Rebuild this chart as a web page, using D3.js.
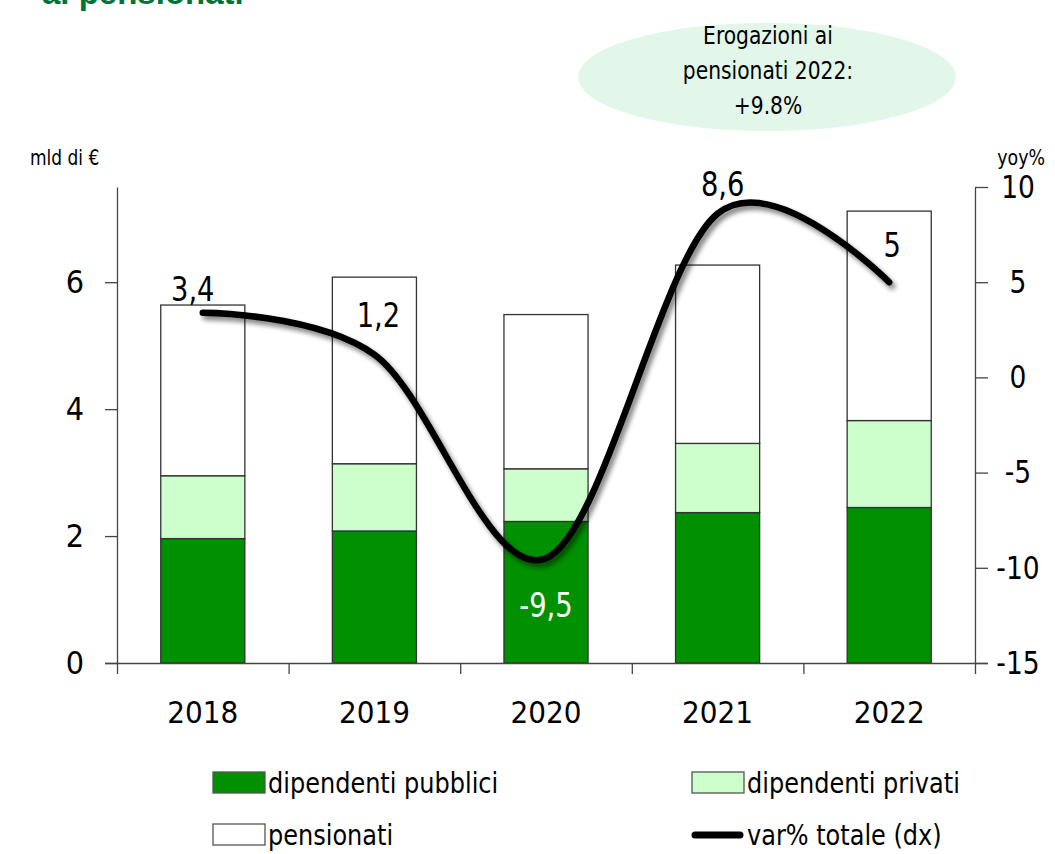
<!DOCTYPE html>
<html>
<head>
<meta charset="utf-8">
<script src="https://cdn.jsdelivr.net/npm/d3@7"></script>
<style>
  html, body { margin: 0; padding: 0; background: #fff; }
  svg { display: block; }
  text { font-family: 'Liberation Sans Narrow', 'DejaVu Sans Condensed', 'Roboto Condensed', sans-serif; font-stretch: condensed; fill: #000; }
</style>
</head>
<body>
<svg id="chart" width="1055" height="854"></svg>
<script>
// ---- data ----
const years = ['2018', '2019', '2020', '2021', '2022'];
const pubblici = [1.96, 2.08, 2.23, 2.37, 2.45];
const privati = [0.99, 1.06, 0.83, 1.09, 1.37];
const pensionati = [2.69, 2.94, 2.43, 2.81, 3.30];
const varTotale = [3.4, 1.2, -9.5, 8.6, 5];
const varLabels = ['3,4', '1,2', '-9,5', '8,6', '5'];
const leftTicks = [0, 2, 4, 6];
const rightTicks = [-15, -10, -5, 0, 5, 10];
const seriesNames = ['dipendenti pubblici', 'dipendenti privati', 'pensionati', 'var% totale (dx)'];
const noteLines = ['Erogazioni ai', 'pensionati 2022:', '+9.8%'];

const colPub = '#009000', colPriv = '#ccffcc', colPens = '#ffffff', stroke = '#333';
const FONT = "'Liberation Sans Narrow', 'DejaVu Sans Condensed', sans-serif";

const svg = d3.select('#chart');

function condense(sel, k) {
  sel.each(function () {
    const L = this.getComputedTextLength();
    d3.select(this).attr('textLength', L * k).attr('lengthAdjust', 'spacingAndGlyphs');
  });
}

// defs: shadow
const defs = svg.append('defs');
const f = defs.append('filter').attr('id', 'shadow').attr('x', '-10%').attr('y', '-10%').attr('width', '130%').attr('height', '130%');
f.append('feGaussianBlur').attr('in', 'SourceAlpha').attr('stdDeviation', 2.5).attr('result', 'b');
f.append('feOffset').attr('in', 'b').attr('dx', 3).attr('dy', 4).attr('result', 'o');
f.append('feComponentTransfer').attr('in', 'o').attr('result', 'o2')
  .append('feFuncA').attr('type', 'linear').attr('slope', 0.5);
const fm = f.append('feMerge');
fm.append('feMergeNode').attr('in', 'o2');
fm.append('feMergeNode').attr('in', 'SourceGraphic');

// title fragment (cut off at top, as in the reference)
svg.append('text').attr('x', 42).attr('y', 4)
  .style('font-family', "'Liberation Sans', Arial, sans-serif").style('font-stretch', 'normal')
  .attr('font-size', 33).attr('font-weight', 'bold').style('fill', '#00733b')
  .text('ai pensionati');

// scales
const x = d3.scaleBand().domain(years).range([117, 975]).paddingInner(0.51).paddingOuter(0.255);
const xb = d3.scaleLinear().domain([0, years.length]).range([117, 975]);
const yL = d3.scaleLinear().domain([0, 7.5]).range([663, 187]);
const yR = d3.scaleLinear().domain([-15, 10]).range([663, 187]);

// note ellipse
svg.append('ellipse').attr('cx', 767).attr('cy', 77).attr('rx', 189).attr('ry', 54).attr('fill', '#e2f6ea');
svg.append('g').selectAll('text').data(noteLines).join('text')
  .attr('x', 768).attr('y', (d, i) => 44 + i * 35)
  .attr('text-anchor', 'middle').attr('font-size', 25).text(d => d)
  .call(condense, 0.9);

// axis titles
svg.append('text').attr('x', 30).attr('y', 165).attr('font-size', 21).text('mld di €').call(condense, 0.9);
svg.append('text').attr('x', 1045).attr('y', 165).attr('text-anchor', 'end').attr('font-size', 21).text('yoy%').call(condense, 0.92);

// stacked bars
const stackData = years.map((y, i) => ({ year: y, pub: pubblici[i], priv: privati[i], pens: pensionati[i] }));
const stack = d3.stack().keys(['pub', 'priv', 'pens'])(stackData);
const fills = { pub: colPub, priv: colPriv, pens: colPens };
svg.append('g').selectAll('g').data(stack).join('g')
  .attr('fill', d => fills[d.key])
  .selectAll('rect').data(d => d).join('rect')
  .attr('x', d => x(d.data.year))
  .attr('width', x.bandwidth())
  .attr('y', d => yL(d[1]))
  .attr('height', d => yL(d[0]) - yL(d[1]))
  .attr('stroke', stroke).attr('stroke-width', 1.3);

// axes
const fmt = d => String(d);
const axL = svg.append('g').attr('transform', 'translate(117,0)')
  .call(d3.axisLeft(yL).tickValues(leftTicks).tickSize(12).tickSizeOuter(0).tickFormat(fmt));
axL.selectAll('text').attr('x', -42).attr('text-anchor', 'middle').attr('font-size', 32).style('font-family', FONT);
const axR = svg.append('g').attr('transform', 'translate(975,0)')
  .call(d3.axisRight(yR).tickValues(rightTicks).tickSize(13).tickSizeOuter(0).tickFormat(fmt));
axR.selectAll('text').attr('x', 43).attr('text-anchor', 'middle').attr('font-size', 32).style('font-family', FONT)
  .call(condense, 0.92);
const axB = svg.append('g').attr('transform', 'translate(0,663)')
  .call(d3.axisBottom(xb).tickValues(d3.range(years.length + 1)).tickSize(11).tickSizeOuter(0).tickFormat(''));
axB.select('.domain').attr('d', 'M105,0.5H988');
const axYears = svg.append('g').attr('transform', 'translate(0,663)')
  .call(d3.axisBottom(x).tickSize(0).tickPadding(38));
axYears.select('.domain').remove();
axYears.selectAll('text').attr('font-size', 31).style('font-family', FONT);
svg.selectAll('.domain, .tick line').attr('stroke', '#444').attr('stroke-width', 1.3);

// line
const line = d3.line()
  .x((d, i) => x(years[i]) + x.bandwidth() / 2)
  .y(d => yR(d))
  .curve(d3.curveCardinal.tension(0));
svg.append('path').datum(varTotale)
  .attr('d', line).attr('fill', 'none').attr('stroke', '#000').attr('stroke-width', 6.5)
  .attr('stroke-linecap', 'round').attr('filter', 'url(#shadow)');

// data labels
const labOff = [[-10, -12], [4, -28], [0, 59], [5, -18], [3, -25]];
svg.append('g').selectAll('text').data(varTotale).join('text')
  .attr('x', (d, i) => x(years[i]) + x.bandwidth() / 2 + labOff[i][0])
  .attr('y', (d, i) => yR(d) + labOff[i][1])
  .attr('text-anchor', 'middle').attr('font-size', 33)
  .style('fill', (d, i) => i === 2 ? '#fff' : '#000')
  .text((d, i) => varLabels[i])
  .call(condense, 0.92);

// legend
const legItems = [
  { name: seriesNames[0], type: 'rect', fill: colPub, x: 213, y: 783 },
  { name: seriesNames[1], type: 'rect', fill: colPriv, x: 692, y: 783 },
  { name: seriesNames[2], type: 'rect', fill: colPens, x: 213, y: 835 },
  { name: seriesNames[3], type: 'line', x: 692, y: 835 }
];
const lg = svg.append('g').selectAll('g').data(legItems).join('g')
  .attr('transform', d => `translate(${d.x},${d.y})`);
lg.filter(d => d.type === 'rect').append('rect')
  .attr('x', 0).attr('y', -11).attr('width', 52).attr('height', 21)
  .attr('fill', d => d.fill).attr('stroke', '#555').attr('stroke-width', 1.3);
lg.filter(d => d.type === 'line').append('line')
  .attr('x1', 3).attr('x2', 48).attr('y1', 0).attr('y2', 0)
  .attr('stroke', '#000').attr('stroke-width', 7).attr('stroke-linecap', 'round');
lg.append('text').attr('x', 55).attr('y', 10).attr('font-size', 29).text(d => d.name)
  .call(condense, 0.92);
</script>
</body>
</html>
